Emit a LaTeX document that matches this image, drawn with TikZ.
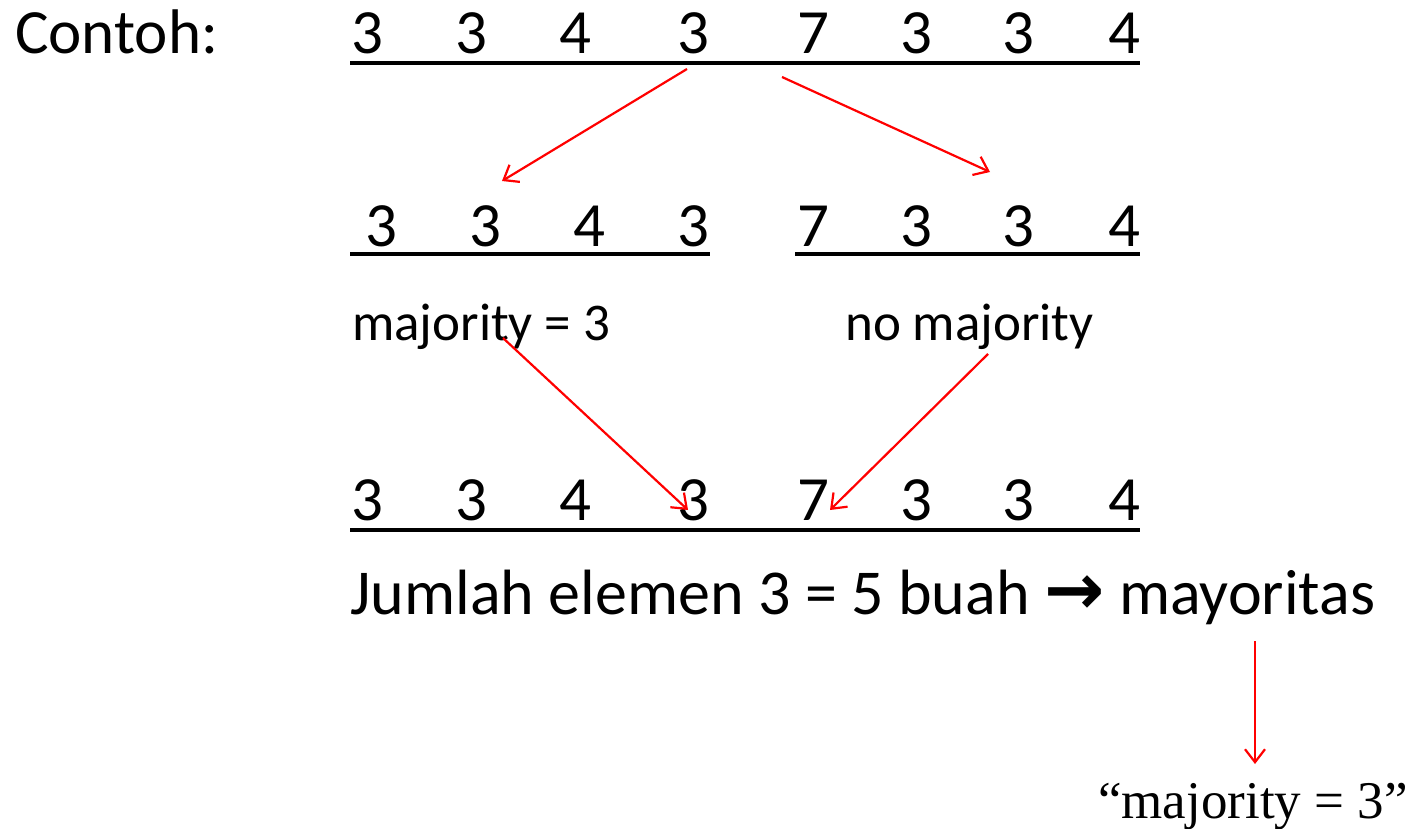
\documentclass[tikz,border=0pt]{standalone}
\usepackage{fontspec}
\setmainfont{Carlito}
\newfontfamily\tms{Liberation Serif}
\newfontfamily\djv{DejaVu Sans}
\usetikzlibrary{arrows.meta}
\begin{document}
\begin{tikzpicture}[x=1pt,y=-1pt,
  big/.style={inner sep=0pt,anchor=base,font=\fontsize{63}{70}\selectfont},
  lbl/.style={inner sep=0pt,anchor=base west,font=\fontsize{53}{60}\selectfont},
  bar/.style={line width=4pt,black},
  redarrow/.style={red,line width=2.2pt,-{Straight Barb[length=13pt,width=20pt,line width=2.2pt]}}]
\useasboundingbox (0,0) rectangle (1413,829);
% title
\node[big,anchor=base west] (contoh) at (15,54) {Contoh:};
% row 1
\foreach \x/\d/\n in {367/3/a,471/3/b,575/4/c,693/3/d,813/7/e,916/3/f,1018/3/g,1124/4/h}
  \node[big] (r1\n) at (\x,54) {\d};
\draw[bar] (350,63) coordinate (l1s) -- (1140,63) coordinate (l1e);
% row 2
\foreach \x/\d/\n in {381/3/a,485/3/b,589/4/c,693/3/d,813/7/e,916/3/f,1018/3/g,1124/4/h}
  \node[big] (r2\n) at (\x,247) {\d};
\draw[bar] (350,254) coordinate (l2s) -- (710,254) coordinate (l2e);
\draw[bar] (795,254) coordinate (l3s) -- (1140,254) coordinate (l3e);
% labels
\node[lbl] (maj) at (352,340) {majority = 3};
\node[lbl] (nomaj) at (845,340) {no majority};
% row 3
\foreach \x/\d/\n in {367/3/a,471/3/b,575/4/c,693/3/d,813/7/e,916/3/f,1018/3/g,1124/4/h}
  \node[big] (r3\n) at (\x,520) {\d};
\draw[bar] (350,530) coordinate (l4s) -- (1140,530) coordinate (l4e);
% sentence
\node[inner sep=0pt,anchor=base west,font=\fontsize{64}{70}\selectfont] (jumlah) at (350,614) {Jumlah elemen 3 = 5 buah {\djv\fontsize{72}{80}\selectfont\bfseries →} mayoritas};
% result
\node[inner sep=0pt,anchor=base west,font=\tms\fontsize{53}{60}\selectfont] (res) at (1098,818) {“majority = 3”};
% arrow end points
\coordinate (a1s) at (687,69);  \coordinate (a1e) at (502,181);
\coordinate (a2s) at (782,77);  \coordinate (a2e) at (990,172);
\coordinate (a3s) at (503,338); \coordinate (a3e) at (688,510);
\coordinate (a4s) at (988,354); \coordinate (a4e) at (830,510);
\coordinate (a5s) at (1255,641); \coordinate (a5e) at (1255,764);
\draw[redarrow] (a1s) -- (a1e);
\draw[redarrow] (a2s) -- (a2e);
\draw[redarrow] (a3s) -- (a3e);
\draw[redarrow] (a4s) -- (a4e);
\draw[redarrow] (a5s) -- (a5e);
\end{tikzpicture}
\end{document}
